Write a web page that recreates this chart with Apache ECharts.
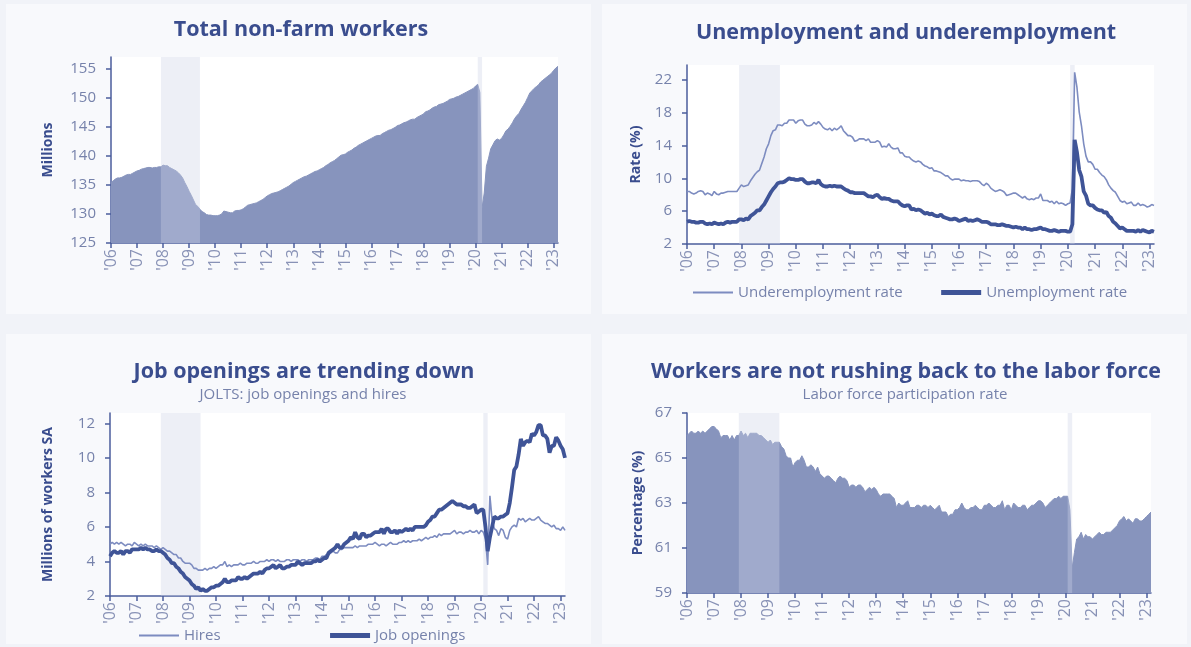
<!DOCTYPE html>
<html><head><meta charset="utf-8">
<script src="https://cdn.jsdelivr.net/npm/echarts@6/dist/echarts.min.js"></script>
<style>html,body{margin:0;padding:0;background:#f1f3f8;}#c{width:1191px;height:647px;}</style>
</head><body><div id="c"></div><script>
// ---------- DATA ----------
const years = ['06','07','08','09','10','11','12','13','14','15','16','17','18','19','20','21','22','23'];
const monthsInLastYear = 3;
const recessions = [['2007-12','2009-06'],['2020-02','2020-04']];

const nonfarm = [
135.4,135.7,136.0,136.2,136.2,136.3,136.5,136.7,136.8,136.8,137.0,137.2,
137.4,137.5,137.7,137.8,137.9,138.0,138.0,137.9,138.0,138.0,138.1,138.1,
138.4,138.3,138.3,138.0,137.8,137.6,137.4,137.1,136.7,136.2,135.4,134.7,
133.9,133.2,132.4,131.6,131.3,130.8,130.4,130.2,129.9,129.8,129.8,129.7,
129.7,129.7,129.8,130.0,130.5,130.4,130.3,130.2,130.2,130.5,130.6,130.6,
130.7,130.9,131.2,131.5,131.6,131.7,131.8,131.9,132.1,132.3,132.5,132.8,
133.1,133.3,133.5,133.6,133.7,133.8,134.0,134.2,134.4,134.6,134.8,135.1,
135.4,135.6,135.8,136.0,136.2,136.4,136.5,136.7,136.9,137.1,137.3,137.4,
137.6,137.8,138.0,138.3,138.5,138.8,139.0,139.2,139.5,139.8,140.1,140.2,
140.3,140.6,140.8,141.0,141.3,141.5,141.8,142.0,142.2,142.4,142.6,142.8,
143.0,143.2,143.4,143.5,143.5,143.8,144.0,144.2,144.4,144.5,144.7,144.9,
145.2,145.3,145.5,145.7,145.8,146.0,146.2,146.3,146.3,146.6,146.8,147.0,
147.2,147.6,147.7,147.9,148.2,148.4,148.5,148.8,148.9,149.0,149.2,149.4,
149.7,149.8,149.9,150.1,150.2,150.4,150.6,150.8,151.0,151.2,151.4,151.6,
152.0,152.3,150.9,131.0,133.6,138.2,139.6,141.2,141.9,142.6,142.9,142.7,
143.0,143.6,144.3,144.6,145.1,145.7,146.4,146.9,147.3,148.0,148.6,149.2,
150.0,150.8,151.2,151.6,151.9,152.2,152.7,153.0,153.3,153.6,153.9,154.2,
154.7,155.1,155.4];

const unemployment = [
4.7,4.8,4.7,4.7,4.6,4.6,4.7,4.7,4.5,4.4,4.5,4.4,
4.6,4.5,4.4,4.5,4.4,4.6,4.7,4.6,4.7,4.7,4.7,5.0,
5.0,4.9,5.1,5.0,5.4,5.6,5.8,6.1,6.1,6.5,6.8,7.3,
7.8,8.3,8.7,9.0,9.4,9.5,9.5,9.6,9.8,10.0,9.9,9.9,
9.8,9.8,9.9,9.9,9.6,9.4,9.4,9.5,9.5,9.4,9.8,9.3,
9.1,9.0,9.0,9.1,9.0,9.1,9.0,9.0,9.0,8.8,8.6,8.5,
8.3,8.3,8.2,8.2,8.2,8.2,8.2,8.0,7.8,7.8,7.7,7.9,
8.0,7.7,7.5,7.6,7.5,7.5,7.3,7.2,7.2,7.2,6.9,6.7,
6.6,6.7,6.7,6.2,6.3,6.1,6.2,6.1,5.9,5.7,5.8,5.6,
5.7,5.5,5.4,5.4,5.6,5.3,5.2,5.1,5.0,5.0,5.1,5.0,
4.8,4.9,5.0,5.1,4.8,4.9,4.8,4.9,5.0,4.9,4.7,4.7,
4.7,4.6,4.4,4.4,4.4,4.3,4.3,4.4,4.3,4.2,4.2,4.1,
4.0,4.1,4.0,4.0,3.8,4.0,3.8,3.8,3.7,3.8,3.8,3.9,
4.0,3.8,3.8,3.7,3.6,3.6,3.7,3.6,3.5,3.6,3.6,3.6,
3.5,3.5,4.4,14.7,13.2,11.0,10.2,8.4,7.9,6.9,6.7,6.7,
6.4,6.2,6.1,6.1,5.8,5.9,5.4,5.2,4.7,4.5,4.2,3.9,
4.0,3.8,3.6,3.6,3.6,3.6,3.5,3.7,3.5,3.7,3.6,3.5,
3.4,3.6,3.5];

const underemployment = [
8.4,8.4,8.2,8.1,8.2,8.4,8.5,8.4,8.0,8.2,8.1,7.9,
8.4,8.1,8.0,8.2,8.2,8.3,8.4,8.4,8.4,8.4,8.4,8.8,
9.2,9.0,9.1,9.2,9.7,10.1,10.5,10.8,11.0,11.8,12.6,13.6,
14.2,15.2,15.8,15.9,16.5,16.5,16.4,16.7,16.7,17.1,17.1,17.1,
16.7,17.0,17.1,17.1,16.6,16.4,16.4,16.5,16.8,16.6,16.9,16.6,
16.2,16.0,15.9,16.1,15.8,16.1,15.9,16.1,16.4,15.8,15.5,15.2,
15.2,15.0,14.5,14.6,14.8,14.8,14.8,14.6,14.8,14.4,14.4,14.4,
14.6,14.4,13.8,13.9,13.8,14.2,13.8,13.6,13.6,13.7,13.1,13.1,
12.7,12.6,12.6,12.3,12.1,12.0,12.1,12.0,11.7,11.5,11.4,11.2,
11.3,10.9,10.9,10.8,10.7,10.5,10.3,10.3,10.0,9.8,9.9,9.9,
9.9,9.7,9.8,9.7,9.7,9.6,9.7,9.7,9.7,9.6,9.3,9.1,
9.4,9.2,8.8,8.6,8.4,8.5,8.6,8.5,8.3,7.9,8.0,8.1,
8.2,8.2,8.0,7.8,7.6,7.8,7.5,7.4,7.5,7.4,7.6,7.6,
8.1,7.3,7.3,7.3,7.1,7.2,6.9,7.2,6.9,7.0,6.9,6.7,
6.9,7.0,8.7,22.9,21.1,18.1,16.4,14.2,12.7,12.0,12.0,11.7,
11.1,11.1,10.7,10.4,10.2,9.8,9.2,8.8,8.5,8.3,7.8,7.3,
7.1,7.2,6.9,7.0,7.1,6.7,6.7,7.0,6.7,6.8,6.7,6.5,
6.6,6.8,6.7];

const jobOpenings = [
4.3,4.5,4.6,4.5,4.5,4.6,4.4,4.6,4.6,4.5,4.7,4.7,
4.7,4.7,4.8,4.7,4.8,4.7,4.7,4.6,4.6,4.7,4.6,4.6,
4.5,4.4,4.2,4.1,3.9,3.9,3.7,3.6,3.4,3.3,3.1,3.0,
2.9,2.7,2.6,2.4,2.5,2.3,2.4,2.3,2.3,2.4,2.5,2.5,
2.6,2.6,2.7,2.8,3.0,2.8,2.8,2.9,2.9,2.9,3.1,3.0,
3.0,3.1,3.0,3.1,3.2,3.3,3.3,3.3,3.4,3.3,3.5,3.6,
3.6,3.7,3.8,3.6,3.7,3.8,3.6,3.6,3.7,3.7,3.8,3.8,
3.8,4.0,3.9,3.8,3.9,3.9,3.9,3.9,4.0,4.0,4.1,4.0,
4.1,4.2,4.2,4.5,4.6,4.7,4.8,5.0,4.8,4.8,5.0,5.1,
5.2,5.4,5.3,5.7,5.4,5.3,5.6,5.6,5.4,5.5,5.5,5.6,
5.7,5.7,5.7,5.9,5.6,5.9,5.9,5.7,5.7,5.8,5.6,5.8,
5.7,5.8,5.9,5.8,5.9,5.8,6.0,6.0,6.0,6.0,6.0,6.1,
6.3,6.4,6.6,6.6,6.8,7.0,7.0,7.1,7.2,7.3,7.4,7.5,
7.4,7.3,7.3,7.3,7.2,7.2,7.1,7.1,7.2,7.3,6.8,6.9,
7.0,7.0,6.0,4.6,5.4,6.0,6.6,6.5,6.5,6.6,6.6,6.7,
6.8,7.4,8.3,9.3,9.5,10.2,11.1,10.7,10.9,11.0,10.9,11.4,
11.3,11.5,11.9,11.9,11.3,11.3,11.1,10.3,10.7,10.7,11.2,11.0,
10.7,10.5,10.0];

const hires = [
5.0,5.1,5.0,5.1,5.0,5.1,5.0,4.9,5.0,5.0,4.9,5.1,
5.0,4.9,5.0,4.9,5.0,4.9,4.9,4.9,4.8,4.9,4.8,4.7,
4.8,4.7,4.6,4.6,4.5,4.4,4.4,4.2,4.2,4.0,3.9,3.9,
3.9,3.8,3.6,3.6,3.5,3.5,3.5,3.6,3.5,3.6,3.6,3.7,
3.6,3.7,3.8,3.8,4.0,3.7,3.8,3.7,3.8,3.8,3.8,3.9,
3.8,3.8,3.9,3.9,3.9,4.0,3.9,3.9,4.0,4.0,4.0,4.1,
4.0,4.1,4.1,4.0,4.1,4.0,4.0,4.0,4.1,4.1,4.0,4.1,
4.1,4.1,4.0,4.1,4.1,4.0,4.1,4.1,4.1,4.2,4.2,4.1,
4.3,4.3,4.4,4.4,4.5,4.6,4.5,4.5,4.7,4.7,4.8,4.8,
4.8,4.8,4.8,4.9,4.8,4.9,4.9,4.9,4.9,5.0,5.0,5.0,
5.1,5.0,4.9,5.0,5.0,4.9,5.0,5.1,5.0,5.0,5.0,5.1,
5.1,5.2,5.1,5.2,5.1,5.2,5.2,5.2,5.3,5.2,5.3,5.4,
5.3,5.4,5.4,5.5,5.4,5.6,5.5,5.6,5.6,5.6,5.6,5.7,
5.8,5.6,5.7,5.7,5.6,5.7,5.7,5.8,5.7,5.7,5.8,5.6,
5.8,5.7,5.3,3.8,7.8,6.4,5.9,5.8,5.5,5.9,5.8,5.4,
5.3,5.8,6.0,6.1,6.0,6.5,6.4,6.5,6.3,6.4,6.5,6.4,
6.4,6.5,6.6,6.4,6.3,6.2,6.2,6.1,6.0,6.1,5.9,5.9,
5.8,6.0,5.8];

const participation = [
66.0,66.1,66.2,66.1,66.1,66.2,66.1,66.2,66.1,66.2,66.3,66.4,
66.4,66.3,66.2,65.9,66.0,66.0,66.0,65.8,66.0,65.8,66.0,66.0,
66.2,66.0,66.1,65.9,66.1,66.1,66.1,66.1,66.0,66.0,65.9,65.8,
65.7,65.8,65.6,65.7,65.7,65.7,65.5,65.4,65.1,65.0,65.0,64.6,
64.8,64.9,64.9,65.1,64.9,64.6,64.6,64.7,64.6,64.4,64.6,64.3,
64.2,64.1,64.2,64.2,64.1,64.0,63.9,64.1,64.2,64.1,64.1,64.0,
63.7,63.8,63.8,63.7,63.8,63.8,63.7,63.5,63.6,63.7,63.6,63.7,
63.6,63.4,63.3,63.4,63.4,63.4,63.4,63.3,63.2,62.8,63.0,62.9,
62.9,63.0,63.1,62.8,62.8,62.8,62.9,62.9,62.8,62.9,62.9,62.8,
62.9,62.8,62.7,62.8,62.9,62.6,62.6,62.6,62.4,62.5,62.5,62.7,
62.7,62.8,63.0,62.8,62.7,62.7,62.8,62.8,62.9,62.8,62.7,62.7,
62.9,62.9,63.0,62.9,62.8,62.8,62.9,62.9,63.1,62.7,62.9,62.9,
62.7,63.0,62.9,62.8,62.8,62.9,62.9,62.7,62.8,62.9,62.9,63.0,
63.1,63.1,63.0,62.8,62.9,63.0,63.1,63.2,63.2,63.3,63.2,63.3,
63.3,63.3,62.7,60.1,60.8,61.4,61.5,61.7,61.4,61.6,61.5,61.5,
61.4,61.5,61.6,61.7,61.6,61.6,61.7,61.7,61.7,61.8,61.9,62.0,
62.2,62.3,62.4,62.2,62.3,62.2,62.1,62.3,62.3,62.2,62.2,62.3,
62.4,62.5,62.6];

const yTicks1 = [125,130,135,140,145,150,155];
const yTicks2 = [2,6,10,14,18,22];
const yTicks3 = [2,4,6,8,10,12];
const yTicks4 = [59,61,63,65,67];

// ---------- BUILD ----------
const months = [];
years.forEach((y, i) => {
  const n = i === years.length - 1 ? monthsInLastYear : 12;
  for (let m = 1; m <= n; m++) months.push('20' + y + '-' + String(m).padStart(2, '0'));
});

const TITLE = '#3a4d8e', AXIS = '#4b5d9c', LABEL = '#7682ab', XLABEL = '#8892b6';
const AREA = '#8794bd', THIN = '#7d8cc0', THICK = '#3f5497';
const FONT = '"Open Sans", "DejaVu Sans", sans-serif';
const isJan = (i, v) => String(v).endsWith('-01');

const grids = [
  {left: 111, top: 57, width: 447, height: 186},
  {left: 687, top: 65, width: 467, height: 179},
  {left: 110, top: 413, width: 455, height: 183},
  {left: 687, top: 413, width: 464, height: 180}
];

function xAxis(i) {
  return {
    type: 'category', gridIndex: i, data: months, boundaryGap: false,
    axisLine: {lineStyle: {color: AXIS, width: 1.5}},
    axisTick: {interval: isJan, length: 5, lineStyle: {color: AXIS, width: 1.5}},
    axisLabel: {interval: isJan, rotate: 90, margin: 6, color: XLABEL, fontSize: 16, fontFamily: FONT,
      formatter: v => "'" + v.slice(2, 4)},
    splitLine: {show: false}
  };
}
function yAxis(i, min, max, ticks, name, gap) {
  return {
    type: 'value', gridIndex: i, min: min, max: max,
    name: name, nameLocation: 'middle', nameGap: gap, nameRotate: 90,
    nameTextStyle: {color: TITLE, fontWeight: 'bold', fontSize: 14, fontFamily: FONT},
    axisLine: {show: true, lineStyle: {color: AXIS, width: 1.5}},
    axisTick: {show: true, length: 5, customValues: ticks, lineStyle: {color: AXIS, width: 1.5}},
    axisLabel: {customValues: ticks, color: LABEL, fontSize: 15, fontFamily: FONT, margin: 15},
    splitLine: {show: false}
  };
}
function bands(i, z) {
  return {
    type: 'line', xAxisIndex: i, yAxisIndex: i, data: [], z: z, silent: true,
    markArea: {silent: true, z: z, itemStyle: {color: 'rgba(205,212,230,0.36)'},
      data: recessions.map(r => [{xAxis: r[0]}, {xAxis: r[1]}])}
  };
}
function areaSeries(i, data) {
  return {type: 'line', xAxisIndex: i, yAxisIndex: i, data: data, symbol: 'none', z: 2,
    lineStyle: {width: 1, color: AREA}, itemStyle: {color: AREA}, areaStyle: {color: AREA, opacity: 1}};
}
function lineSeries(i, name, data, color, width) {
  return {type: 'line', name: name, xAxisIndex: i, yAxisIndex: i, data: data, symbol: 'none', z: 3,
    lineStyle: {width: width, color: color}, itemStyle: {color: color}};
}
function txt(x, y, text, size, bold, color) {
  return {type: 'text', x: x, y: y, silent: true,
    style: {text: text, align: 'center', verticalAlign: 'middle', fill: color,
      font: (bold ? 'bold ' : '') + size + 'px ' + FONT}};
}
function legend(names, left, top, gap) {
  return {
    data: [{name: names[0], lineStyle: {width: 2}}, {name: names[1], lineStyle: {width: 5}}],
    left: left, top: top, itemWidth: 40, itemHeight: 14, itemGap: gap, padding: 0,
    itemStyle: {opacity: 0},
    textStyle: {color: LABEL, fontSize: 15, fontFamily: FONT}
  };
}

const option = {
  animation: false,
  graphic: [
    {type: 'rect', shape: {x: 6, y: 4, width: 585, height: 310}, style: {fill: '#f8f9fc'}, z: -10},
    {type: 'rect', shape: {x: 602, y: 4, width: 585, height: 310}, style: {fill: '#f8f9fc'}, z: -10},
    {type: 'rect', shape: {x: 6, y: 334, width: 585, height: 310}, style: {fill: '#f8f9fc'}, z: -10},
    {type: 'rect', shape: {x: 602, y: 334, width: 585, height: 310}, style: {fill: '#f8f9fc'}, z: -10},
    txt(301, 30, 'Total non-farm workers', 21.5, true, TITLE),
    txt(906, 33, 'Unemployment and underemployment', 21.5, true, TITLE),
    txt(304, 372, 'Job openings are trending down', 21.5, true, TITLE),
    txt(303, 395, 'JOLTS: job openings and hires', 15, false, LABEL),
    txt(906, 372, 'Workers are not rushing back to the labor force', 21.5, true, TITLE),
    txt(905, 395, 'Labor force participation rate', 15, false, LABEL)
  ],
  grid: grids.map(g => Object.assign({show: true, backgroundColor: '#ffffff', borderWidth: 0}, g)),
  xAxis: [xAxis(0), xAxis(1), xAxis(2), xAxis(3)],
  yAxis: [
    yAxis(0, 125, 157, yTicks1, 'Millions', 56),
    yAxis(1, 2, 23.8, yTicks2, 'Rate (%)', 44),
    yAxis(2, 2, 12.6, yTicks3, 'Millions of workers SA', 55),
    yAxis(3, 59, 67, yTicks4, 'Percentage (%)', 42)
  ],
  legend: [
    legend(['Underemployment rate', 'Unemployment rate'], 692, 285, 36),
    legend(['Hires', 'Job openings'], 138, 628, 107)
  ],
  series: [
    areaSeries(0, nonfarm), bands(0, 5),
    bands(1, 1),
    lineSeries(1, 'Underemployment rate', underemployment, THIN, 1.6),
    lineSeries(1, 'Unemployment rate', unemployment, THICK, 3.8),
    bands(2, 1),
    lineSeries(2, 'Hires', hires, THIN, 1.6),
    lineSeries(2, 'Job openings', jobOpenings, THICK, 3.8),
    areaSeries(3, participation), bands(3, 5)
  ]
};
const chart = echarts.init(document.getElementById('c'), null, {renderer: 'canvas'});
chart.setOption(option);
</script></body></html>
